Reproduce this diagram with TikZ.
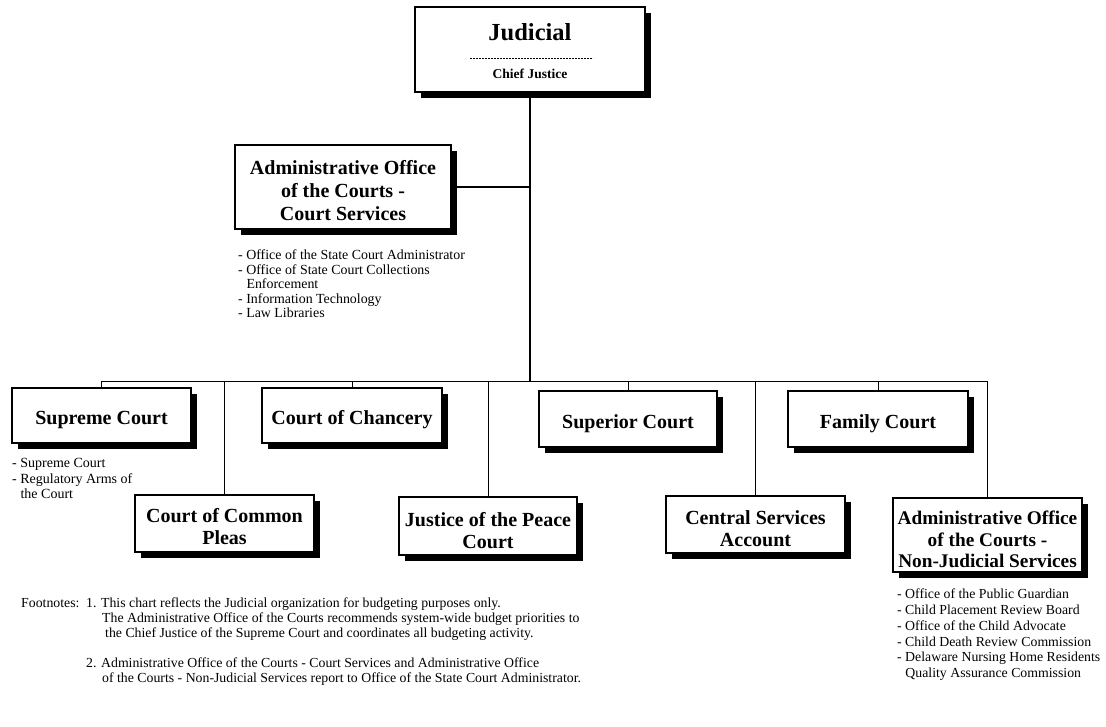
\documentclass[tikz,border=0pt]{standalone}
\usepackage{fontspec}
\setmainfont{Liberation Serif}
\usetikzlibrary{shadows}
\begin{document}
\begin{tikzpicture}[x=1pt,y=-1pt,
  orgbox/.style={draw, line width=1.2pt, fill=white, inner sep=0pt,
    drop shadow={shadow xshift=6pt, shadow yshift=-6pt, fill=black, opacity=1}},
  boxtext/.style={inner sep=0pt, align=center, font=\bfseries\fontsize{20}{22}\selectfont},
  listtext/.style={inner sep=0pt, anchor=north west, align=left},
  conn/.style={line width=1pt}]
\useasboundingbox (0,0) rectangle (1106,727);

% boxes
\node[orgbox, minimum width=230pt, minimum height=85pt] (jud) at (530,49.5) {};
\node[inner sep=0pt, font=\bfseries\fontsize{24.5}{28}\selectfont] (judt) at (530,32) {Judicial};
\draw[dash pattern=on 2pt off 1pt, line width=0.8pt] (470,58) -- (593,58);
\node[inner sep=0pt, font=\bfseries\fontsize{13.5}{15}\selectfont] (cj) at (530,74) {Chief Justice};

\node[orgbox, minimum width=216pt, minimum height=84pt] (acs) at (343,187) {};
\node[boxtext, font=\bfseries\fontsize{20}{23}\selectfont] (acst) at ([yshift=-4pt]acs.center) {Administrative Office\\of the Courts -\\Court Services};

\node[orgbox, minimum width=179pt, minimum height=55pt] (sup) at (101.5,415.5) {};
\node[boxtext] (supt) at ([yshift=-4.5pt]sup.center) {Supreme Court};
\node[orgbox, minimum width=180pt, minimum height=55pt] (chan) at (352,415.5) {};
\node[boxtext] (chant) at ([yshift=-4.5pt]chan.center) {Court of Chancery};
\node[orgbox, minimum width=178pt, minimum height=56pt] (spr) at (628,419) {};
\node[boxtext] (sprt) at ([yshift=-4.5pt]spr.center) {Superior Court};
\node[orgbox, minimum width=180pt, minimum height=56pt] (fam) at (878,419) {};
\node[boxtext] (famt) at ([yshift=-4.5pt]fam.center) {Family Court};

\node[orgbox, minimum width=179pt, minimum height=57pt] (ccp) at (224.5,523.5) {};
\node[boxtext] (ccpt) at ([yshift=-3.5pt]ccp.center) {Court of Common\\Pleas};
\node[orgbox, minimum width=178pt, minimum height=58pt] (jop) at (488,526) {};
\node[boxtext] (jopt) at ([yshift=-4.5pt]jop.center) {Justice of the Peace\\Court};
\node[orgbox, minimum width=179pt, minimum height=57pt] (csa) at (755.5,524.5) {};
\node[boxtext] (csat) at ([yshift=-4.5pt]csa.center) {Central Services\\Account};
\node[orgbox, minimum width=189pt, minimum height=74pt] (aoj) at (987.5,535) {};
\node[boxtext, font=\bfseries\fontsize{19.3}{21.5}\selectfont] (aojt) at ([yshift=-4.5pt]aoj.center) {Administrative Office\\of the Courts -\\Non-Judicial Services};

% connectors
\coordinate (busL) at (101.5,381);
\coordinate (busR) at (987.5,381);
\draw[line width=2pt] (jud.south) -- (jud.south |- busL);
\draw[line width=1.4pt] (acs.east) -- (acs.east -| jud.south);
\draw[conn] (busL) -- (busR);
\foreach \n in {sup,chan,spr,fam,ccp,jop,csa,aoj}
  \draw[conn] (\n.north) -- (\n.north |- busL);

% lists
\node[listtext, font=\fontsize{13.9}{14.5}\selectfont] (acsl) at (238,250)
  {- Office of the State Court Administrator\\- Office of State Court Collections\\\hspace*{0.6em}Enforcement\\- Information Technology\\- Law Libraries};
\node[listtext, font=\fontsize{14}{15.5}\selectfont] (supl) at (12,458.5)
  {- Supreme Court\\- Regulatory Arms of\\\hspace*{0.6em}the Court};
\node[listtext, font=\fontsize{13.8}{15.7}\selectfont] (aojl) at (897,589)
  {- Office of the Public Guardian\\- Child Placement Review Board\\- Office of the Child Advocate\\- Child Death Review Commission\\- Delaware Nursing Home Residents\\\hspace*{0.6em}Quality Assurance Commission};

% footnotes
\node[listtext, font=\fontsize{13.8}{15}\selectfont] (fnl) at (21,598) {Footnotes:};
\node[listtext, font=\fontsize{13.8}{15}\selectfont] (fn1) at (86,598)
  {1. This chart reflects the Judicial organization for budgeting purposes only.\\\hspace*{16pt}The Administrative Office of the Courts recommends system-wide budget priorities to\\\hspace*{19pt}the Chief Justice of the Supreme Court and coordinates all budgeting activity.};
\node[listtext, font=\fontsize{13.8}{15}\selectfont] (fn2) at (86,658)
  {2. Administrative Office of the Courts - Court Services and Administrative Office\\\hspace*{16pt}of the Courts - Non-Judicial Services report to Office of the State Court Administrator.};
\end{tikzpicture}
\end{document}
